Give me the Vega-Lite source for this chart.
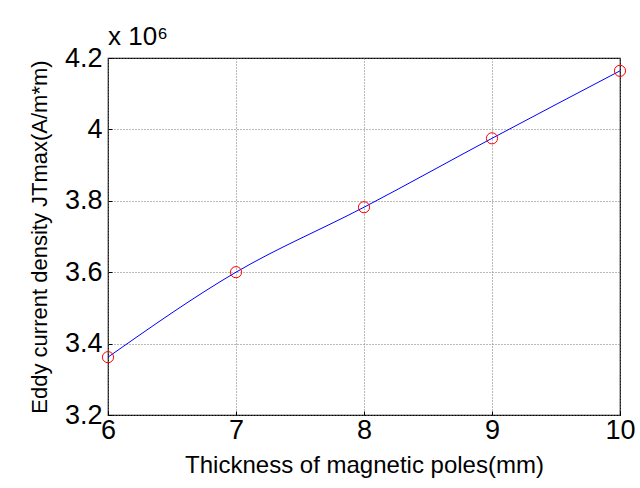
{
  "$schema": "https://vega.github.io/schema/vega-lite/v6.json",
  "width": 512,
  "height": 357,
  "autosize": {"type": "none"},
  "padding": {"left": 108, "top": 58, "right": 20, "bottom": 73},
  "background": "white",
  "config": {
    "font": "Liberation Sans",
    "view": {"stroke": "black", "strokeWidth": 1.2},
    "axis": {
      "labelFont": "Liberation Sans",
      "titleFont": "Liberation Sans",
      "labelColor": "black",
      "titleColor": "black",
      "titleFontWeight": "normal",
      "domain": false,
      "tickColor": "black",
      "tickSize": -4,
      "grid": true,
      "gridColor": "#777777",
      "gridDash": [1, 2],
      "gridWidth": 1
    }
  },
  "title": {
    "text": "x 10⁶",
    "anchor": "start",
    "frame": "group",
    "fontSize": 26,
    "font": "Liberation Sans",
    "fontWeight": "normal",
    "color": "black",
    "offset": -6
  },
  "data": {
    "values": [
      {"thickness": 6, "jtmax": 3.362},
      {"thickness": 7, "jtmax": 3.600},
      {"thickness": 8, "jtmax": 3.782},
      {"thickness": 9, "jtmax": 3.975},
      {"thickness": 10, "jtmax": 4.164}
    ]
  },
  "encoding": {
    "x": {
      "field": "thickness",
      "type": "quantitative",
      "scale": {"domain": [6, 10], "nice": false, "zero": false},
      "axis": {
        "values": [6, 7, 8, 9, 10],
        "title": "Thickness of magnetic poles(mm)",
        "titleFontSize": 24,
        "labelFontSize": 27,
        "labelPadding": 6,
        "titlePadding": 10,
        "labelFlush": false
      }
    },
    "y": {
      "field": "jtmax",
      "type": "quantitative",
      "scale": {"domain": [3.2, 4.2], "nice": false, "zero": false},
      "axis": {
        "values": [3.2, 3.4, 3.6, 3.8, 4.0, 4.2],
        "format": "~g",
        "title": "Eddy current density JTmax(A/m*m)",
        "titleFontSize": 22,
        "labelFontSize": 27,
        "labelPadding": 10,
        "titlePadding": 13,
        "labelFlush": false
      }
    }
  },
  "layer": [
    {
      "mark": {"type": "line", "color": "#0000ff", "strokeWidth": 1, "interpolate": "monotone", "clip": false}
    },
    {
      "mark": {"type": "point", "shape": "circle", "color": "#ff0000", "filled": false, "size": 125, "strokeWidth": 1, "opacity": 1, "clip": false}
    }
  ]
}
